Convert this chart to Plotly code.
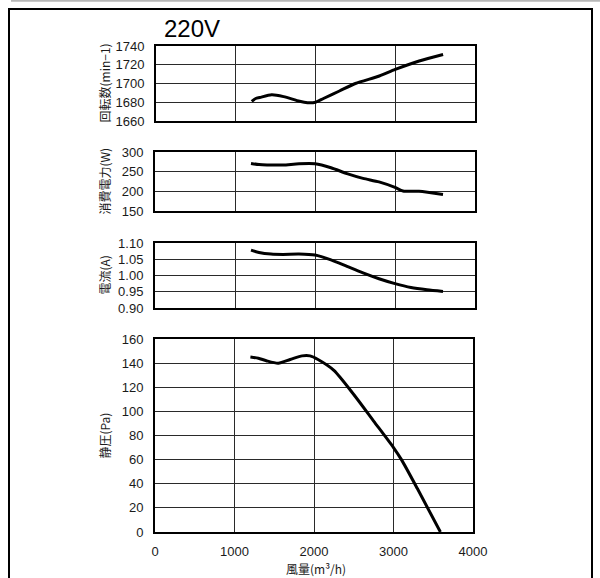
import plotly.graph_objects as go

# ---- data ----
title_text = "220V"

x_rpm = [1200, 1250, 1300, 1450, 1600, 1800, 1900, 2000, 2100, 2300, 2500, 2800, 3000, 3300, 3600]
rpm = [1681, 1684, 1685, 1688, 1686, 1681, 1679.5, 1680, 1684, 1692, 1700, 1708, 1715, 1724, 1731]

x_power = [1200, 1300, 1400, 1600, 1800, 2000, 2200, 2400, 2600, 2800, 3000, 3100, 3300, 3600]
power = [271, 268, 267, 267, 270, 270, 260, 245, 233, 224, 210, 201, 200, 192]

x_current = [1200, 1300, 1450, 1600, 1800, 2000, 2200, 2400, 2600, 2800, 3000, 3200, 3400, 3600]
current = [1.078, 1.071, 1.066, 1.065, 1.066, 1.063, 1.048, 1.028, 1.008, 0.990, 0.975, 0.963, 0.956, 0.951]

x_pressure = [1200, 1300, 1400, 1550, 1700, 1850, 1950, 2050, 2250, 2500, 2750, 3000, 3100, 3300, 3590]
pressure = [145, 144, 142, 140, 143, 146, 146, 143, 134, 114, 92, 70, 60, 36, 0]

x_ticks = [0, 1000, 2000, 3000, 4000]
rpm_ticks = [1660, 1680, 1700, 1720, 1740]
power_ticks = [150, 200, 250, 300]
current_ticks = [0.90, 0.95, 1.00, 1.05, 1.10]
pressure_ticks = [0, 20, 40, 60, 80, 100, 120, 140, 160]

y_titles = ["回転数(min−1)", "消費電力(W)", "電流(A)", "静圧(Pa)"]
x_title = "風量(m³/h)"

# ---- layout helpers ----
W, H = 600, 578
def px(x):
    return x / W
def py(y):
    return 1 - y / H

panels = [
    dict(x=x_rpm, y=rpm, ticks=rpm_ticks, fmt="d", rows=(46, 121), cols=(156, 475)),
    dict(x=x_power, y=power, ticks=power_ticks, fmt="d", rows=(152, 211), cols=(155, 475)),
    dict(x=x_current, y=current, ticks=current_ticks, fmt=".2f", rows=(243, 308), cols=(155, 475)),
    dict(x=x_pressure, y=pressure, ticks=pressure_ticks, fmt="d", rows=(339, 532), cols=(155, 473)),
]

tick_font = dict(family="Liberation Sans, Arial, sans-serif", size=13, color="#1a1a1a")
cjk_font = dict(family="Noto Sans CJK JP, sans-serif", size=12, color="#1a1a1a")

fig = go.Figure()
layout = dict(
    width=W, height=H, margin=dict(l=0, r=0, t=0, b=0),
    paper_bgcolor="white", plot_bgcolor="white", showlegend=False,
    template="none",
)
annotations = []

for i, p in enumerate(panels, start=1):
    sfx = "" if i == 1 else str(i)
    fig.add_trace(go.Scatter(
        x=p["x"], y=p["y"], mode="lines",
        line=dict(color="black", width=3, shape="spline", smoothing=0.7),
        xaxis="x" + sfx, yaxis="y" + sfx, hoverinfo="skip",
    ))
    last = (i == len(panels))
    layout["xaxis" + sfx] = dict(
        domain=[px(p["cols"][0]), px(p["cols"][1])], anchor="y" + sfx,
        range=[x_ticks[0], x_ticks[-1]], tickmode="array", tickvals=x_ticks,
        ticktext=[str(v) for v in x_ticks],
        showticklabels=last, ticks="", ticklabelstandoff=6,
        showgrid=True, gridcolor="#2a2a2a", gridwidth=1.3,
        showline=True, mirror=True, linecolor="black", linewidth=2,
        zeroline=False, tickfont=tick_font, fixedrange=True,
    )
    layout["yaxis" + sfx] = dict(
        domain=[py(p["rows"][1]), py(p["rows"][0])], anchor="x" + sfx,
        range=[p["ticks"][0], p["ticks"][-1]], tickmode="array", tickvals=p["ticks"],
        tickformat=p["fmt"], ticks="", ticklabelstandoff=7,
        showgrid=True, gridcolor="#2a2a2a", gridwidth=1.3,
        showline=True, mirror=True, linecolor="black", linewidth=2,
        zeroline=False, tickfont=tick_font, fixedrange=True,
    )
    annotations.append(dict(
        text=y_titles[i - 1], textangle=-90, showarrow=False,
        xref="paper", yref="paper", x=px(104), y=py((p["rows"][0] + p["rows"][1]) / 2),
        xanchor="center", yanchor="middle", font=cjk_font,
    ))

annotations.append(dict(
    text=x_title, showarrow=False, xref="paper", yref="paper",
    x=px(316), y=py(568.5), xanchor="center", yanchor="middle", font=cjk_font,
))
annotations.append(dict(
    text=title_text, showarrow=False, xref="paper", yref="paper",
    x=px(162), y=py(29), xanchor="left", yanchor="middle",
    font=dict(family="Liberation Sans, Arial, sans-serif", size=24, color="black"),
))
layout["annotations"] = annotations
layout["shapes"] = [
    dict(type="rect", xref="paper", yref="paper",
         x0=px(9), x1=px(592), y0=-0.1, y1=py(9),
         line=dict(color="black", width=2), fillcolor="rgba(0,0,0,0)", layer="above"),
    dict(type="line", xref="paper", yref="paper",
         x0=px(11), x1=1, y0=py(0.8), y1=py(0.8),
         line=dict(color="#b8b8b8", width=2)),
]
fig.update_layout(**layout)

# remove the browser's default page margin so the figure fills the window
page_fix = ("document.body.style.margin='0';document.body.style.padding='0';"
            "document.documentElement.style.overflow='hidden';")
fig.write_html("out.html", post_script=page_fix, config={"displayModeBar": False})
